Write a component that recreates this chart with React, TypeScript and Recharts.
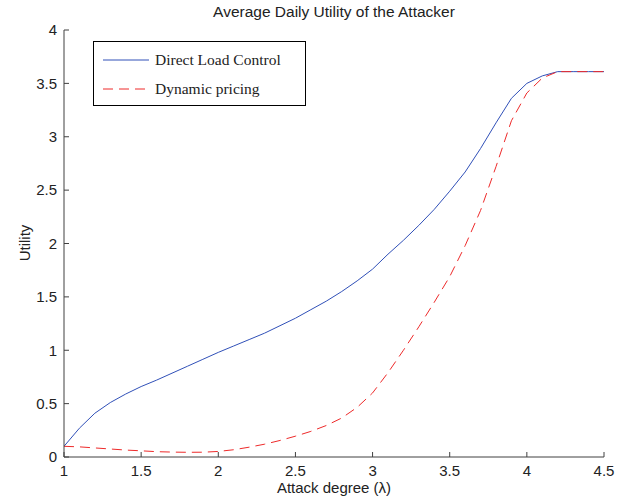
import { LineChart, Line, XAxis, YAxis } from "recharts";

const degrees = [
  1.0, 1.1, 1.2, 1.3, 1.4, 1.5, 1.6, 1.7, 1.8, 1.9, 2.0, 2.1, 2.2, 2.3, 2.4, 2.5, 2.6, 2.7,
  2.8, 2.9, 3.0, 3.1, 3.2, 3.3, 3.4, 3.5, 3.6, 3.7, 3.8, 3.9, 4.0, 4.1, 4.2, 4.3, 4.4, 4.5,
];
const directLoad = [
  0.1, 0.27, 0.41, 0.51, 0.59, 0.66, 0.72, 0.785, 0.85, 0.915, 0.98, 1.04, 1.1, 1.16, 1.23,
  1.3, 1.38, 1.46, 1.55, 1.65, 1.76, 1.9, 2.03, 2.17, 2.32, 2.49, 2.67, 2.89, 3.13, 3.36,
  3.5, 3.57, 3.61, 3.61, 3.61, 3.61,
];
const dynamicPricing = [
  0.1, 0.095, 0.085, 0.075, 0.065, 0.058, 0.05, 0.046, 0.044, 0.045, 0.052, 0.068, 0.092,
  0.12, 0.155, 0.195, 0.24, 0.295, 0.365, 0.465, 0.6, 0.79, 1.0, 1.22, 1.45, 1.69, 1.98, 2.31,
  2.72, 3.15, 3.41, 3.55, 3.61, 3.61, 3.61, 3.61,
];
const xTicks = [1, 1.5, 2, 2.5, 3, 3.5, 4, 4.5];
const yTicks = [0, 0.5, 1, 1.5, 2, 2.5, 3, 3.5, 4];

const data = degrees.map((d, i) => ({ x: d, dlc: directLoad[i], dp: dynamicPricing[i] }));

const FONT = "'Liberation Sans', Arial, sans-serif";
const AXIS = "#404040";
const BLUE = "#3050b8";
const RED = "#ee2a2a";

function LegendBox() {
  const row = { display: "flex", alignItems: "center", height: 29 };
  return (
    <div
      style={{
        position: "absolute",
        left: 93,
        top: 41,
        width: 213,
        height: 65,
        border: "1px solid #000",
        background: "#fff",
        boxSizing: "border-box",
        padding: "3px 0 0 9px",
        fontFamily: "'Liberation Serif', 'Times New Roman', serif",
        fontSize: 15.5,
        color: "#222",
        zIndex: 2,
      }}
    >
      <div style={row}>
        <svg width={48} height={4} style={{ marginRight: 4 }}>
          <line x1={0} y1={2} x2={46} y2={2} stroke={BLUE} strokeWidth={1} />
        </svg>
        Direct Load Control
      </div>
      <div style={row}>
        <svg width={48} height={4} style={{ marginRight: 4 }}>
          <line x1={0} y1={2} x2={46} y2={2} stroke={RED} strokeWidth={1} strokeDasharray="10 6" />
        </svg>
        Dynamic pricing
      </div>
    </div>
  );
}

const textStyle = { fontFamily: FONT, fontSize: 15, color: "#222" };

export default function App() {
  return (
    <div style={{ position: "absolute", left: 0, top: 0, width: 630, height: 502, background: "#fff" }}>
      <div style={{ ...textStyle, position: "absolute", top: 3, left: 64, width: 540, textAlign: "center", fontSize: 15.5 }}>
        Average Daily Utility of the Attacker
      </div>
      <div style={{ ...textStyle, position: "absolute", top: 479, left: 64, width: 540, textAlign: "center" }}>
        Attack degree (λ)
      </div>
      <div
        style={{
          ...textStyle,
          position: "absolute",
          left: 24,
          top: 243,
          transform: "translate(-50%, -50%) rotate(-90deg)",
          whiteSpace: "nowrap",
        }}
      >
        Utility
      </div>
      <LineChart
        width={630}
        height={502}
        data={data}
        margin={{ top: 30, right: 26, left: 0, bottom: 15 }}
        style={{ position: "absolute", left: 0, top: 0 }}
      >
        <XAxis
          dataKey="x"
          type="number"
          domain={[1, 4.5]}
          ticks={xTicks}
          height={30}
          tickSize={-5}
          tickMargin={13}
          stroke={AXIS}
          tick={{ fontSize: 15, fill: "#222", fontFamily: FONT }}
          allowDataOverflow
        />
        <YAxis
          type="number"
          domain={[0, 4]}
          ticks={yTicks}
          width={64}
          tickSize={-5}
          tickMargin={12}
          stroke={AXIS}
          tick={{ fontSize: 15, fill: "#222", fontFamily: FONT }}
        />
        <Line
          dataKey="dlc"
          stroke={BLUE}
          strokeWidth={1}
          dot={false}
          type="linear"
          isAnimationActive={false}
        />
        <Line
          dataKey="dp"
          stroke={RED}
          strokeWidth={1}
          strokeDasharray="10 6"
          dot={false}
          type="linear"
          isAnimationActive={false}
        />
      </LineChart>
      <LegendBox />
    </div>
  );
}
